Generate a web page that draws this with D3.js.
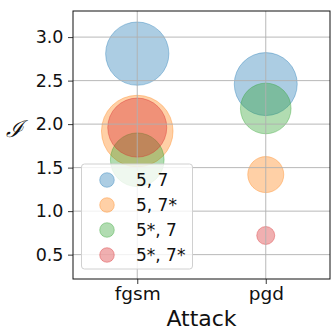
<!DOCTYPE html>
<html>
<head>
<meta charset="utf-8">
<script src="https://cdn.jsdelivr.net/npm/d3@7"></script>
<style>
  body { margin: 0; background: #fff; }
  text { font-family: "DejaVu Sans", sans-serif; fill: #111; }
</style>
</head>
<body>
<svg id="chart" width="331" height="330"></svg>
<script>
// categories on x
var attacks = ['fgsm', 'pgd'];
// legend series
var seriesNames = ['5, 7', '5, 7*', '5*, 7', '5*, 7*'];
var seriesColours = ['#1f77b4', '#ff7f0e', '#2ca02c', '#d62728'];
// I value per series, per attack (fgsm, pgd)
var valuesS57   = [2.81, 2.46];
var valuesS57s  = [1.92, 1.42];
var valuesS5s7  = [1.59, 2.18];
var valuesS5s7s = [1.96, 0.72];
// bubble size (area) per series, per attack
var sizeS57   = [1000, 990];
var sizeS57s  = [1280, 324];
var sizeS5s7  = [720, 640];
var sizeS5s7s = [870, 81];
var yTicks = [0.5, 1.0, 1.5, 2.0, 2.5, 3.0];

var allValues = [valuesS57, valuesS57s, valuesS5s7, valuesS5s7s];
var allSizes = [sizeS57, sizeS57s, sizeS5s7, sizeS5s7s];

//-------------------------------------------------------------------------------

var m = { left: 73, right: 330, top: 11, bottom: 279 };
var ALPHA = 0.37;

var svg = d3.select('#chart');

var x = d3.scalePoint().domain(attacks).range([m.left, m.right]).padding(0.5);
var y = d3.scaleLinear().domain([0.22, 3.30]).range([m.bottom, m.top]);
var r = d3.scaleSqrt().domain([0, 1280]).range([0, 35.8]);

// flatten into one point per bubble, drawn series by series
var points = [];
seriesNames.forEach(function (s, i) {
    attacks.forEach(function (a, j) {
        points.push({ series: i, attack: a, value: allValues[i][j], size: allSizes[i][j] });
    });
});

var gPlot = svg.append('g');

gPlot.selectAll('circle')
    .data(points)
    .join('circle')
    .attr('cx', d => x(d.attack))
    .attr('cy', d => y(d.value))
    .attr('r', d => r(d.size))
    .attr('fill', d => seriesColours[d.series])
    .attr('fill-opacity', ALPHA)
    .attr('stroke', d => seriesColours[d.series])
    .attr('stroke-opacity', ALPHA)
    .attr('stroke-width', 1);

// grid sits above the bubbles, as in the source
var gGrid = svg.append('g').attr('stroke', '#b0b0b0').attr('stroke-width', 0.9);
gGrid.selectAll('.gy')
    .data(yTicks)
    .join('line')
    .attr('x1', m.left).attr('x2', m.right)
    .attr('y1', d => y(d)).attr('y2', d => y(d));
gGrid.selectAll('.gx')
    .data(attacks)
    .join('line')
    .attr('class', 'gx')
    .attr('x1', d => x(d)).attr('x2', d => x(d))
    .attr('y1', m.top).attr('y2', m.bottom);

// axes
var yAxis = d3.axisLeft(y).tickValues(yTicks).tickFormat(d3.format('.1f')).tickSize(5).tickPadding(4.5);
var xAxis = d3.axisBottom(x).tickSize(5).tickPadding(3);

var gy = svg.append('g').attr('transform', `translate(${m.left},0)`).call(yAxis);
var gx = svg.append('g').attr('transform', `translate(0,${m.bottom})`).call(xAxis);
[gx, gy].forEach(function (g) {
    g.select('.domain').remove();
    g.selectAll('.tick line').attr('stroke', '#222').attr('stroke-width', 0.9);
    g.selectAll('.tick text').attr('fill', '#111');
});
gy.selectAll('.tick text').attr('font-size', 17.5);
gx.selectAll('.tick text').attr('font-size', 18.5);

// frame
svg.append('rect')
    .attr('x', m.left).attr('y', m.top)
    .attr('width', m.right - m.left).attr('height', m.bottom - m.top)
    .attr('fill', 'none').attr('stroke', '#111').attr('stroke-width', 1);

// axis labels
svg.append('text')
    .attr('x', (m.left + m.right) / 2).attr('y', 326)
    .attr('text-anchor', 'middle').attr('font-size', 22)
    .text('Attack');

svg.append('text')
    .attr('x', 14).attr('y', 137)
    .attr('text-anchor', 'middle')
    .attr('font-size', 23)
    .style('font-family', '"DejaVu Serif", serif')
    .style('font-style', 'italic')
    .text('\u2110');

// legend
var gLeg = svg.append('g');
gLeg.append('rect')
    .attr('x', 81.5).attr('y', 164).attr('width', 111).attr('height', 105)
    .attr('rx', 3)
    .attr('fill', '#fff').attr('fill-opacity', 0.8)
    .attr('stroke', '#d0d0d0').attr('stroke-width', 1);

var legRow = d3.scaleLinear().domain([0, 3]).range([180, 255]);
var rows = gLeg.selectAll('g.row')
    .data(seriesNames)
    .join('g')
    .attr('class', 'row')
    .attr('transform', (d, i) => `translate(0,${legRow(i)})`);
rows.append('circle')
    .attr('cx', 107).attr('cy', 0).attr('r', 7.3)
    .attr('fill', (d, i) => seriesColours[i]).attr('fill-opacity', ALPHA)
    .attr('stroke', (d, i) => seriesColours[i]).attr('stroke-opacity', ALPHA);
rows.append('text')
    .attr('x', 136).attr('y', 6)
    .attr('font-size', 17)
    .text(d => d);
</script>
</body>
</html>
